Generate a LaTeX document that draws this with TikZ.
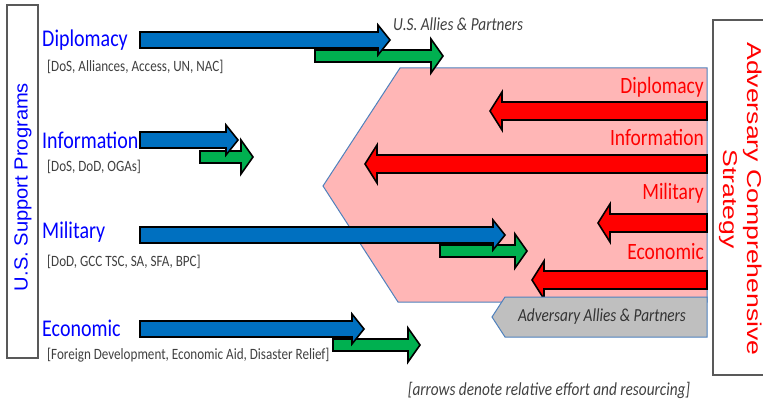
\documentclass[tikz,border=0pt]{standalone}
\usepackage{fontspec}
\setmainfont{Carlito}
\newfontfamily\widefont{Liberation Sans}
\usetikzlibrary{positioning}

\definecolor{usblue}{RGB}{0,112,192}
\definecolor{usgreen}{RGB}{0,176,80}
\definecolor{advred}{RGB}{255,0,0}
\definecolor{advpink}{RGB}{255,182,182}
\definecolor{advedge}{RGB}{79,129,189}
\definecolor{advgray}{RGB}{191,191,191}
\definecolor{notegray}{RGB}{64,64,64}

% block arrow: style, tail x, tip x, y, shaft half, head half
\newcommand{\fatarrow}[6]{%
  \pgfmathsetmacro{\hbase}{#3-12*sign(#3-#2)}
  \draw[#1] (#2,#4-#5) -- (\hbase,#4-#5) -- (\hbase,#4-#6) -- (#3,#4)
    -- (\hbase,#4+#6) -- (\hbase,#4+#5) -- (#2,#4+#5) -- cycle;
}

\tikzset{
  usarrow/.style={fill=usblue, draw=black, line width=1.6pt, line join=miter},
  allyarrow/.style={fill=usgreen, draw=black, line width=1.6pt, line join=miter},
  advarrow/.style={fill=advred, draw=black, line width=1.6pt, line join=miter},
  uslabel/.style={text=blue, font=\fontsize{20}{22}\selectfont, anchor=west, yscale=1.2, inner sep=0pt},
  sublabel/.style={text=notegray, font=\fontsize{13.1}{15}\selectfont, anchor=west, yscale=1.2, inner sep=0pt},
  advlabel/.style={text=advred, font=\fontsize{19.5}{21}\selectfont, anchor=east, yscale=1.2, inner sep=0pt},
  note/.style={text=notegray, font=\fontsize{15.3}{17}\selectfont\itshape, yscale=1.2, inner sep=0pt}
}

\begin{document}
\begin{tikzpicture}[x=1pt, y=-1pt]
    \useasboundingbox (0,0) rectangle (763,404);

    % side boxes
    \draw[gray!70!black, line width=1.2pt] (7,5) rectangle (38,358);
    \node[text=blue, font=\fontsize{19}{21}\selectfont\widefont, rotate=90, xscale=1.06]
        (usprog) at (23,187) {U.S. Support Programs};
    \draw[gray!70!black, line width=1.2pt] (770,20) -- (713,20) -- (713,375) -- (770,375);
    \node[text=advred, font=\fontsize{20}{24}\selectfont\widefont, rotate=-90, xscale=1.33, align=center]
        (advstrat) at (741,199) {Adversary Comprehensive\\Strategy};

    % adversary region
    \fill[advpink, draw=advedge, line width=1pt] (400,68) -- (707,68) -- (707,302) -- (398,302) -- (323,186) -- cycle;

    % adversary arrows
    \fatarrow{advarrow}{707}{490}{111}{9}{19}
    \fatarrow{advarrow}{707}{365}{164}{9}{19}
    \fatarrow{advarrow}{707}{598}{223}{9}{19}
    \fatarrow{advarrow}{707}{532}{280}{9}{19}
    \node[advlabel] (advdip) at (704,87) {Diplomacy};
    \node[advlabel] (advinf) at (704,137) {Information};
    \node[advlabel] (advmil) at (704,193) {Military};
    \node[advlabel] (adveco) at (704,252) {Economic};

    % adversary allies
    \fill[advgray, draw=advedge, line width=1pt] (707,297) -- (707,337) -- (505,337) -- (492,317) -- (505,297) -- cycle;
    \node[note, text=black!80] (advally) at (602,317) {Adversary Allies \& Partners};

    % allied (green) arrows under the U.S. ones
    \fatarrow{allyarrow}{315}{443}{56}{6}{17}
    \fatarrow{allyarrow}{200}{253}{157}{6}{17}
    \fatarrow{allyarrow}{440}{527}{251}{6}{17}
    \fatarrow{allyarrow}{333}{420}{345}{6}{17}

    % U.S. arrows
    \fatarrow{usarrow}{140}{390}{40}{8}{15}
    \fatarrow{usarrow}{140}{238}{140}{8}{15}
    \fatarrow{usarrow}{140}{505}{235}{8}{15}
    \fatarrow{usarrow}{140}{364}{329}{8}{15}

    % U.S. programs
    \node[uslabel] (dip) at (42,40) {Diplomacy};
    \node[sublabel] (dipsub) at (47,67) {[DoS, Alliances, Access, UN, NAC]};
    \node[uslabel] (inf) at (42,140) {Information};
    \node[sublabel] (infsub) at (47,167) {[DoS, DoD, OGAs]};
    \node[uslabel] (mil) at (42,232) {Military};
    \node[sublabel] (milsub) at (47,262) {[DoD, GCC TSC, SA, SFA, BPC]};
    \node[uslabel] (eco) at (42,328) {Economic};
    \node[sublabel] (ecosub) at (47,355) {[Foreign Development, Economic Aid, Disaster Relief]};

    % notes
    \node[note, anchor=west] (usally) at (393,24) {U.S. Allies \& Partners};
    \node[note] (legend) at (549,390) {[arrows denote relative effort and resourcing]};
\end{tikzpicture}
\end{document}
